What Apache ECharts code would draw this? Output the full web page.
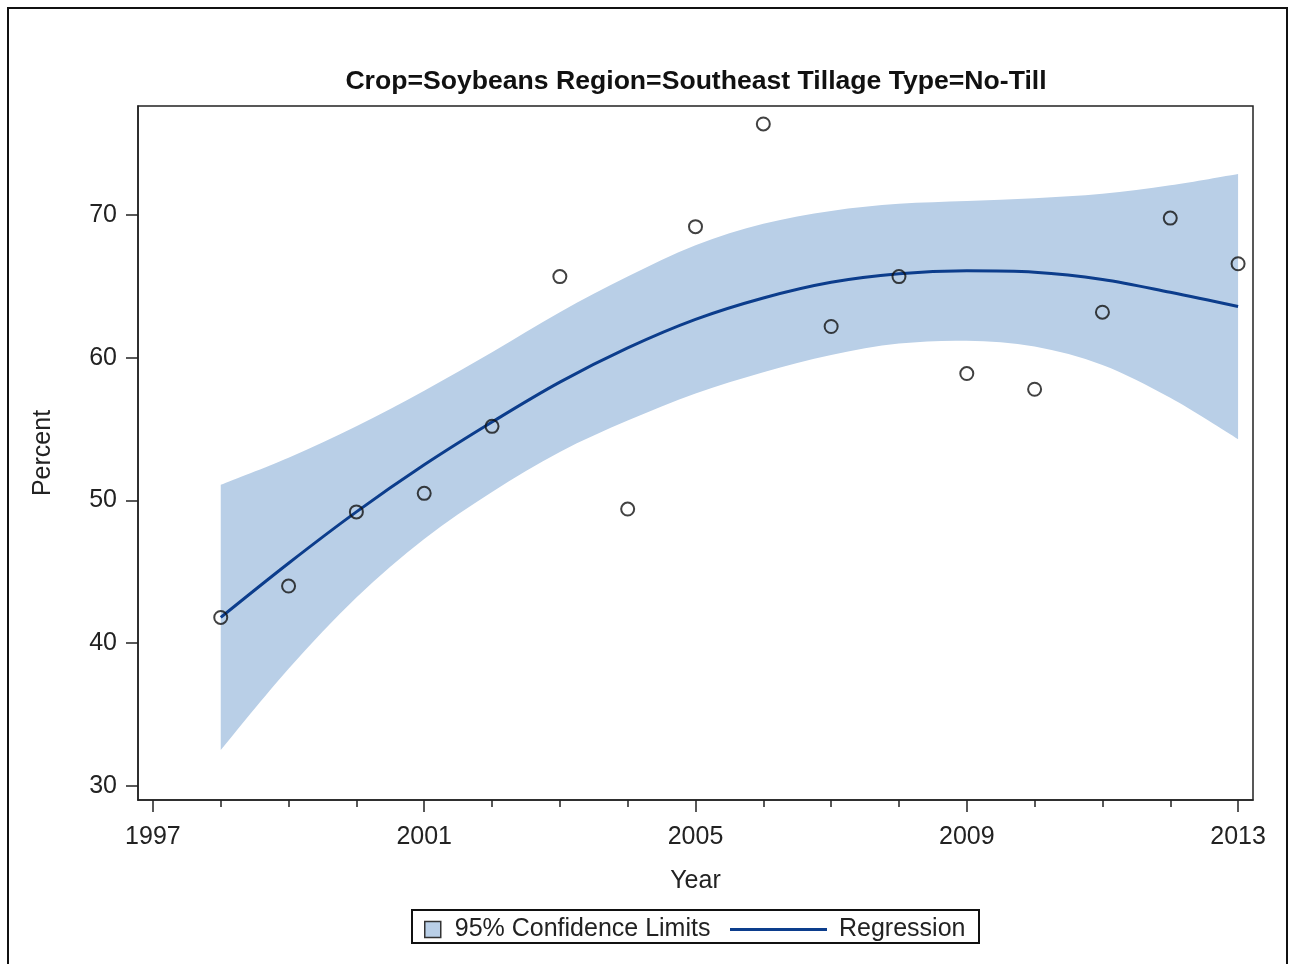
<!DOCTYPE html>
<html>
<head>
<meta charset="utf-8">
<title>Crop=Soybeans Region=Southeast Tillage Type=No-Till</title>
<script src="https://cdn.jsdelivr.net/npm/echarts@6/dist/echarts.min.js"></script>
<style>
  html, body { margin: 0; padding: 0; background: #ffffff; }
  #chart { width: 1289px; height: 964px; }
</style>
</head>
<body>
<div id="chart"></div>
<script>
// Survey years and observed no-till adoption (percent of soybean acres)
const years = [1998, 1999, 2000, 2001, 2002, 2003, 2004, 2005, 2006, 2007, 2008, 2009, 2010, 2011, 2012, 2013];
const observed = [41.8, 44.0, 49.2, 50.5, 55.2, 65.7, 49.4, 69.2, 76.4, 62.2, 65.7, 58.9, 57.8, 63.2, 69.8, 66.6];

// Fitted regression curve and its 95% confidence limits at each year
const fitted = [41.8, 45.6, 49.2, 52.5, 55.5, 58.3, 60.7, 62.7, 64.2, 65.3, 65.9, 66.1, 66.0, 65.5, 64.6, 63.6];
const upperCL = [51.1, 53.0, 55.2, 57.7, 60.4, 63.2, 65.7, 67.9, 69.4, 70.3, 70.8, 71.0, 71.2, 71.5, 72.1, 72.9];
const lowerCL = [32.5, 38.2, 43.2, 47.3, 50.6, 53.4, 55.6, 57.5, 59.0, 60.2, 61.0, 61.2, 60.8, 59.5, 57.2, 54.3];

// Axis tick positions
const yearLabels = [1997, 2001, 2005, 2009, 2013];
const yearTicks = [1997, 1998, 1999, 2000, 2001, 2002, 2003, 2004, 2005, 2006, 2007, 2008, 2009, 2010, 2011, 2012, 2013];
const percentTicks = [30, 40, 50, 60, 70];

const FONT = '"Liberation Sans", Arial, Helvetica, sans-serif';
const BAND_COLOR = '#b9cfe7';
const FIT_COLOR = '#0c3d8c';
const TEXT_COLOR = '#222222';
const LABEL_SIZE = 25;

const chart = echarts.init(document.getElementById('chart'), null, { renderer: 'canvas' });

const pairs = (ys) => years.map((yr, i) => [yr, ys[i]]);

// Smooth path segments (Catmull-Rom as cubic Bezier) through pixel points
function curveSegments(pts) {
  let d = '';
  for (let i = 0; i < pts.length - 1; i++) {
    const p0 = pts[Math.max(i - 1, 0)];
    const p1 = pts[i];
    const p2 = pts[i + 1];
    const p3 = pts[Math.min(i + 2, pts.length - 1)];
    const c1x = p1[0] + (p2[0] - p0[0]) / 6;
    const c1y = p1[1] + (p2[1] - p0[1]) / 6;
    const c2x = p2[0] - (p3[0] - p1[0]) / 6;
    const c2y = p2[1] - (p3[1] - p1[1]) / 6;
    d += ' C' + c1x + ' ' + c1y + ' ' + c2x + ' ' + c2y + ' ' + p2[0] + ' ' + p2[1];
  }
  return d;
}

// Confidence band drawn as one filled shape between the upper and lower limits
function renderBand(params, api) {
  if (params.dataIndex !== 0) return null;
  const up = years.map((yr, i) => api.coord([yr, upperCL[i]]));
  const lo = years.map((yr, i) => api.coord([yr, lowerCL[i]])).reverse();
  let d = 'M' + up[0][0] + ' ' + up[0][1];
  d += curveSegments(up);
  d += ' L' + lo[0][0] + ' ' + lo[0][1];
  d += curveSegments(lo);
  d += ' Z';
  return {
    type: 'path',
    shape: { pathData: d },
    style: { fill: BAND_COLOR, stroke: null },
    silent: true
  };
}

const option = {
  animation: false,
  backgroundColor: '#ffffff',
  textStyle: { fontFamily: FONT },
  title: {
    text: 'Crop=Soybeans Region=Southeast Tillage Type=No-Till',
    left: 691,
    top: 63,
    textAlign: 'center',
    textStyle: { fontFamily: FONT, fontSize: 26.6, fontWeight: 'bold', color: '#111111' }
  },
  grid: {
    left: 138, right: 36, top: 106, bottom: 164,
    show: true, borderColor: '#222222', borderWidth: 1.5, backgroundColor: 'transparent'
  },
  legend: [
    {
      data: ['95% Confidence Limits'],
      left: 424, top: 917, padding: 0,
      icon: 'rect', itemWidth: 16, itemHeight: 16,
      itemStyle: { color: BAND_COLOR, borderColor: '#333333', borderWidth: 1.5 },
      textStyle: { fontFamily: FONT, fontSize: LABEL_SIZE, color: TEXT_COLOR, padding: [0, 0, 0, 9] },
      selectedMode: false
    },
    {
      data: ['Regression'],
      left: 730, top: 917, padding: 0,
      icon: 'rect', itemWidth: 97, itemHeight: 3,
      itemStyle: { color: FIT_COLOR },
      textStyle: { fontFamily: FONT, fontSize: LABEL_SIZE, color: TEXT_COLOR, padding: [0, 0, 0, 7] },
      selectedMode: false
    }
  ],
  xAxis: [
    {
      type: 'value',
      min: 1996.78, max: 2013.22,
      position: 'bottom',
      name: 'Year',
      nameLocation: 'middle',
      nameGap: 69,
      nameTextStyle: { fontFamily: FONT, fontSize: LABEL_SIZE, color: TEXT_COLOR },
      axisLine: { show: true, onZero: false, lineStyle: { color: '#222222', width: 1.5 } },
      axisTick: { show: true, customValues: yearLabels, length: 12, lineStyle: { color: '#222222', width: 1.5 } },
      axisLabel: {
        customValues: yearLabels,
        formatter: (v) => String(v),
        fontFamily: FONT, fontSize: LABEL_SIZE, color: TEXT_COLOR, margin: 25
      },
      splitLine: { show: false }
    },
    {
      type: 'value',
      min: 1996.78, max: 2013.22,
      position: 'bottom',
      axisLine: { show: false },
      axisTick: { show: true, customValues: yearTicks, length: 7, lineStyle: { color: '#222222', width: 1.5 } },
      axisLabel: { show: false },
      splitLine: { show: false }
    }
  ],
  yAxis: {
    type: 'value',
    min: 29.0, max: 77.66,
    name: 'Percent',
    nameLocation: 'middle',
    nameRotate: 90,
    nameGap: 82,
    nameTextStyle: { fontFamily: FONT, fontSize: LABEL_SIZE, color: TEXT_COLOR },
    axisLine: { show: true, onZero: false, lineStyle: { color: '#222222', width: 1.5 } },
    axisTick: { show: true, customValues: percentTicks, length: 12, lineStyle: { color: '#222222', width: 1.5 } },
    axisLabel: {
      customValues: percentTicks,
      fontFamily: FONT, fontSize: LABEL_SIZE, color: TEXT_COLOR, margin: 21
    },
    splitLine: { show: false }
  },
  series: [
    {
      name: '95% Confidence Limits',
      type: 'custom',
      xAxisIndex: 0,
      renderItem: renderBand,
      data: years.map((yr, i) => [yr, lowerCL[i], upperCL[i]]),
      encode: { x: 0, y: [1, 2] },
      itemStyle: { color: BAND_COLOR },
      silent: true,
      clip: true,
      z: 1
    },
    {
      name: 'Regression',
      type: 'line',
      xAxisIndex: 0,
      data: pairs(fitted),
      smooth: 0.35,
      showSymbol: false,
      symbol: 'none',
      itemStyle: { color: FIT_COLOR },
      lineStyle: { color: FIT_COLOR, width: 3 },
      z: 3
    },
    {
      name: 'Percent',
      type: 'scatter',
      xAxisIndex: 0,
      data: pairs(observed),
      symbol: 'circle',
      symbolSize: 13,
      itemStyle: { color: 'rgba(0,0,0,0)', borderColor: '#111111', borderWidth: 2 },
      z: 4
    }
  ],
  graphic: [
    {
      type: 'rect',
      shape: { x: 8, y: 8, width: 1279, height: 970 },
      style: { fill: null, stroke: '#111111', lineWidth: 2 },
      silent: true
    },
    {
      type: 'rect',
      shape: { x: 412, y: 910, width: 567, height: 33 },
      style: { fill: null, stroke: '#111111', lineWidth: 2 },
      silent: true
    }
  ]
};

chart.setOption(option);
</script>
</body>
</html>
